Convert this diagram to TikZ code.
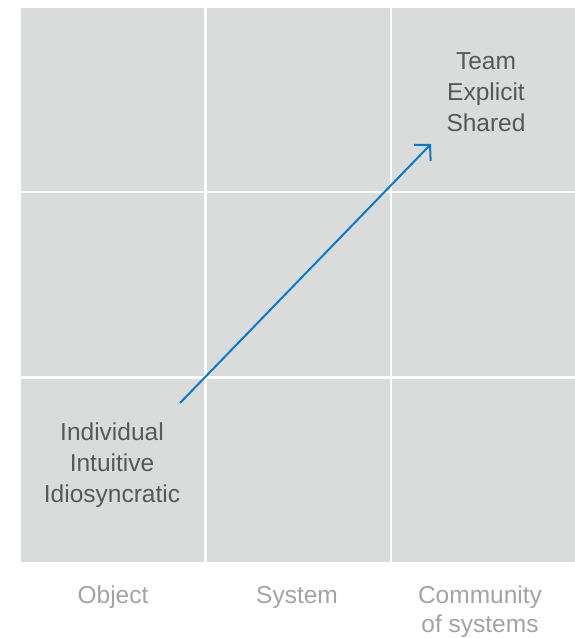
\documentclass[tikz,border=0pt]{standalone}
\usepackage{fontspec}
\setmainfont{Liberation Sans}
\usetikzlibrary{arrows.meta}
\definecolor{cellgray}{HTML}{DADBDB}
\definecolor{inkgray}{HTML}{58585A}
\definecolor{axisgray}{HTML}{A3A3A6}
\definecolor{flowblue}{HTML}{0A7BC9}
\begin{document}
\begin{tikzpicture}
[x=1pt,y=-1pt,%
  cell/.style={shape=rectangle,draw=white,line width=2pt,fill=cellgray,%
    minimum width=185pt,minimum height=185pt,inner sep=0pt},%
  quality/.style={align=center,text=inkgray,font=\fontsize{24.5}{31}\selectfont},%
  axisname/.style={align=center,text=axisgray,font=\fontsize{24.5}{29}\selectfont},%
  flow/.style={draw=flowblue,line width=2pt,-{Straight Barb[length=11pt,width=23pt,line width=2pt]}}]
\useasboundingbox (0,0) rectangle (575,638);
%% the three by three grid
\foreach \col/\cx in {1/112.5, 2/298, 3/483}
{
  \foreach \row/\cy in {1/99.5, 2/284.5, 3/470}
  {
    \node[cell] (c\col\row) at (\cx,\cy) {};
  }
}
%%
\node[quality] (low) at (112,465) {Individual\\Intuitive\\Idiosyncratic};
\node[quality] (high) at (486,92) {Team\\Explicit\\Shared};
%%
\node[axisname] (object) at (113,597) {Object};
\node[axisname] (system) at (297,597) {System};
\node[axisname] (community) at (480,612) {Community\\of systems};
%%
\coordinate (tail) at (180,403);
\coordinate (head) at (431,144);
\draw[flow] (tail) -- (head);
\end{tikzpicture}
\end{document}
